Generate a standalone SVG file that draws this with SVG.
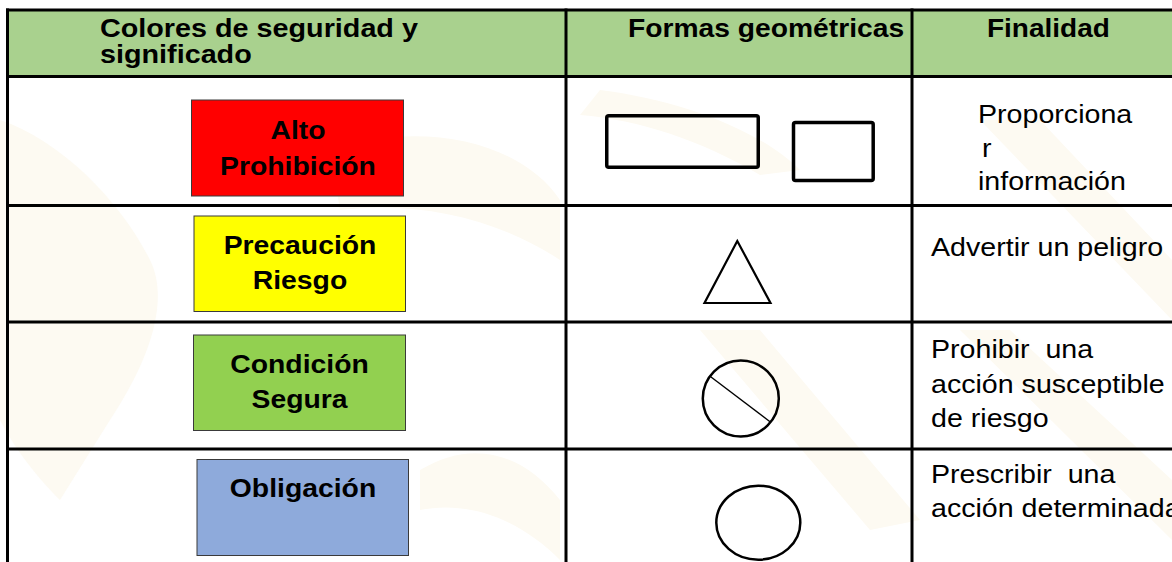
<svg xmlns="http://www.w3.org/2000/svg" width="1172" height="562" viewBox="0 0 1172 562">
  <style>
    .hdr { font-family: "Liberation Sans", Arial, sans-serif; font-weight: bold; font-size: 25px; fill: #000; }
    .box { font-family: "Liberation Sans", Arial, sans-serif; font-weight: bold; font-size: 26px; fill: #000; text-anchor: middle; }
    .txt { font-family: "Liberation Sans", Arial, sans-serif; font-size: 26px; fill: #000; white-space: pre; }
    .grid { stroke: #000; stroke-width: 3; fill: none; }
    .sign { stroke: #3a3a3a; stroke-width: 1; }
    .shape { fill: none; stroke: #000; }
    .wm { fill: #fdfaf2; }
  </style>
  <rect width="1172" height="562" fill="#fff"/>
  <g id="watermark">
    <path class="wm" d="M0 120 C60 140 120 200 150 260 C170 300 150 360 110 420 L60 500 C30 470 10 440 0 420 Z"/>
    <path class="wm" d="M330 150 C420 120 520 140 560 200 L560 260 C500 220 420 200 340 210 Z"/>
    <path class="wm" d="M600 90 C680 100 760 130 800 170 L760 175 C700 140 640 120 580 115 Z"/>
    <path class="wm" d="M700 330 L760 330 L920 520 L870 530 Z"/>
    <path class="wm" d="M960 330 L1010 330 L1172 480 L1172 540 Z"/>
    <path class="wm" d="M980 120 L1040 120 L1172 260 L1172 320 Z"/>
    <path class="wm" d="M420 470 C470 440 520 450 560 500 L560 560 C520 520 470 500 420 510 Z"/>
  </g>
  <g id="header">
    <rect x="7.5" y="10" width="1166" height="66.5" fill="#a9d18e"/>
    <text class="hdr" transform="translate(100,37) scale(1.15,1)"><tspan x="0" y="0">Colores de seguridad y</tspan><tspan x="0" y="26">significado</tspan></text>
    <text class="hdr" transform="translate(628,37) scale(1.13,1)">Formas geométricas</text>
    <text class="hdr" transform="translate(987,37) scale(1.12,1)">Finalidad</text>
  </g>
  <g id="grid">
    <line class="grid" x1="6" y1="10" x2="1172" y2="10"/>
    <line class="grid" x1="6" y1="76.5" x2="1172" y2="76.5"/>
    <line class="grid" x1="6" y1="205.5" x2="1172" y2="205.5"/>
    <line class="grid" x1="6" y1="322" x2="1172" y2="322"/>
    <line class="grid" x1="6" y1="449" x2="1172" y2="449"/>
    <line class="grid" x1="7.5" y1="8.5" x2="7.5" y2="562"/>
    <line class="grid" x1="566" y1="8.5" x2="566" y2="562"/>
    <line class="grid" x1="912" y1="8.5" x2="912" y2="562"/>
  </g>
  <g id="row-alto">
    <rect class="sign" x="191.5" y="100" width="212" height="96" fill="#ff0000"/>
    <text class="box" transform="translate(298,138.5) scale(1.09,1)">Alto</text>
    <text class="box" transform="translate(298,175) scale(1.09,1)">Prohibición</text>
    <rect class="shape" x="606.75" y="115.75" width="151.5" height="51.5" rx="2" stroke-width="3.5"/>
    <rect class="shape" x="793.5" y="122.5" width="79.7" height="58" rx="2" stroke-width="3.5"/>
    <text class="txt" transform="translate(978,123) scale(1.1,1)">Proporciona</text>
    <text class="txt" transform="translate(982,157) scale(1.1,1)">r</text>
    <text class="txt" transform="translate(978,190) scale(1.1,1)">información</text>
  </g>
  <g id="row-precaucion">
    <rect class="sign" x="194" y="216" width="211.5" height="95.5" fill="#ffff00"/>
    <text class="box" transform="translate(300,254) scale(1.09,1)">Precaución</text>
    <text class="box" transform="translate(300,289) scale(1.09,1)">Riesgo</text>
    <polygon class="shape" points="737.3,241 704.5,303 770.5,303" stroke-width="2.2" stroke-linejoin="miter"/>
    <text class="txt" transform="translate(931,255.5) scale(1.1,1)">Advertir un peligro</text>
  </g>
  <g id="row-condicion">
    <rect class="sign" x="193.5" y="335" width="212" height="95.5" fill="#92d050"/>
    <text class="box" transform="translate(299.5,373) scale(1.09,1)">Condición</text>
    <text class="box" transform="translate(299.5,407.5) scale(1.09,1)">Segura</text>
    <circle class="shape" cx="740.8" cy="398.5" r="38" stroke-width="2.5"/>
    <line x1="710.7" y1="376.7" x2="770" y2="421.7" stroke="#000" stroke-width="1.4"/>
    <text class="txt" transform="translate(931,357.5) scale(1.1,1)">Prohibir  una</text>
    <text class="txt" transform="translate(931,393) scale(1.1,1)">acción susceptible</text>
    <text class="txt" transform="translate(931,427) scale(1.1,1)">de riesgo</text>
  </g>
  <g id="row-obligacion">
    <rect class="sign" x="197" y="459.5" width="211.5" height="96" fill="#8eaadb"/>
    <text class="box" transform="translate(303,496.5) scale(1.09,1)">Obligación</text>
    <ellipse class="shape" cx="758.3" cy="522.7" rx="42" ry="37" stroke-width="2.5"/>
    <text class="txt" transform="translate(931,483) scale(1.1,1)">Prescribir  una</text>
    <text class="txt" transform="translate(931,517) scale(1.1,1)">acción determinada</text>
  </g>
</svg>
